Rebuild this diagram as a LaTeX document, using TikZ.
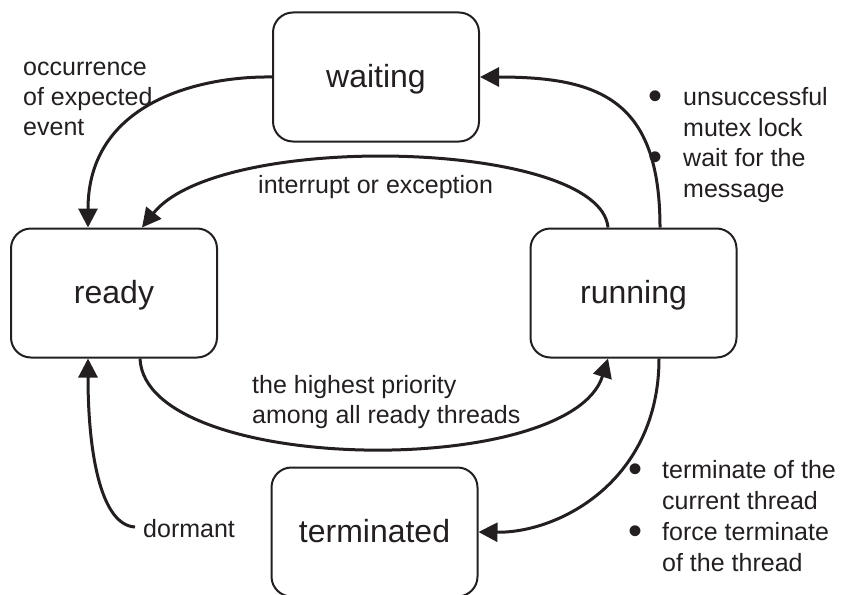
\documentclass[tikz,border=0pt]{standalone}
\usepackage{fontspec}
\setmainfont{Liberation Sans}
\usetikzlibrary{arrows.meta}
\definecolor{ink}{HTML}{231F20}
\begin{document}
\begin{tikzpicture}[x=1pt,y=-1pt,
  state/.style={draw=ink, line width=2pt, rounded corners=20pt,
    minimum width=206pt, minimum height=129pt, inner sep=0pt,
    font=\fontsize{32}{38}\selectfont, text=ink, text height=23pt, text depth=3pt},
  lbl/.style={anchor=base west, inner sep=0pt, font=\fontsize{25}{30}\selectfont, text=ink},
  bul/.style={anchor=base, inner sep=0pt, font=\fontsize{40}{40}\selectfont, text=ink},
  conn/.style={draw=ink, line width=3pt, -{Triangle[length=19pt,width=19pt]}}
]
\useasboundingbox (0,0) rectangle (842,594);
\clip (0,0) rectangle (842,594);

\node[state] (waiting) at (376,77) {waiting};
\node[state] (ready) at (114,293) {ready};
\node[state] (running) at (633.5,293) {running};
\node[state] (terminated) at (374.5,532) {terminated};

% connectors
\draw[conn] (waiting.west) .. controls (200,76) and (88,102) .. ([xshift=-26pt]ready.north);
\draw[conn] ([xshift=-25.5pt]running.north) .. controls (600,140) and (220,130) .. ([xshift=28pt]ready.north);
\draw[conn] ([xshift=26.5pt]running.north) .. controls (660,100) and (600,77) .. (waiting.east);
\draw[conn] ([xshift=26pt]ready.south) .. controls (145,475) and (570,480) .. ([xshift=-25.5pt]running.south);
\draw[conn] ([xshift=25.5pt]running.south) .. controls (659,480) and (560,533) .. (terminated.east);
\coordinate (dstart) at (135,527);
\draw[conn] (dstart) .. controls (100,525) and (88,450) .. ([xshift=-26pt]ready.south);

% labels
\node[lbl] (l1a) at (23,75) {occurrence};
\node[lbl] (l1b) at (23,105) {of expected};
\node[lbl] (l1c) at (23,135) {event};

\node[lbl] (l2) at (258,193) {interrupt or exception};

\node[lbl] (l3a) at (252,393) {the highest priority};
\node[lbl] (l3b) at (252,423) {among all ready threads};

\node[lbl] (l4) at (143,537) {dormant};

\node[bul] (b1) at (655,109) {•};
\node[lbl] (t1a) at (683,105) {unsuccessful};
\node[lbl] (t1b) at (683,136) {mutex lock};
\node[bul] (b2) at (655,170) {•};
\node[lbl] (t2a) at (683,166) {wait for the};
\node[lbl] (t2b) at (683,197) {message};

\node[bul] (b3) at (635,482) {•};
\node[lbl] (t3a) at (662,478) {terminate of the};
\node[lbl] (t3b) at (662,509) {current thread};
\node[bul] (b4) at (635,544) {•};
\node[lbl] (t4a) at (662,540) {force terminate};
\node[lbl] (t4b) at (662,571) {of the thread};
\end{tikzpicture}
\end{document}
